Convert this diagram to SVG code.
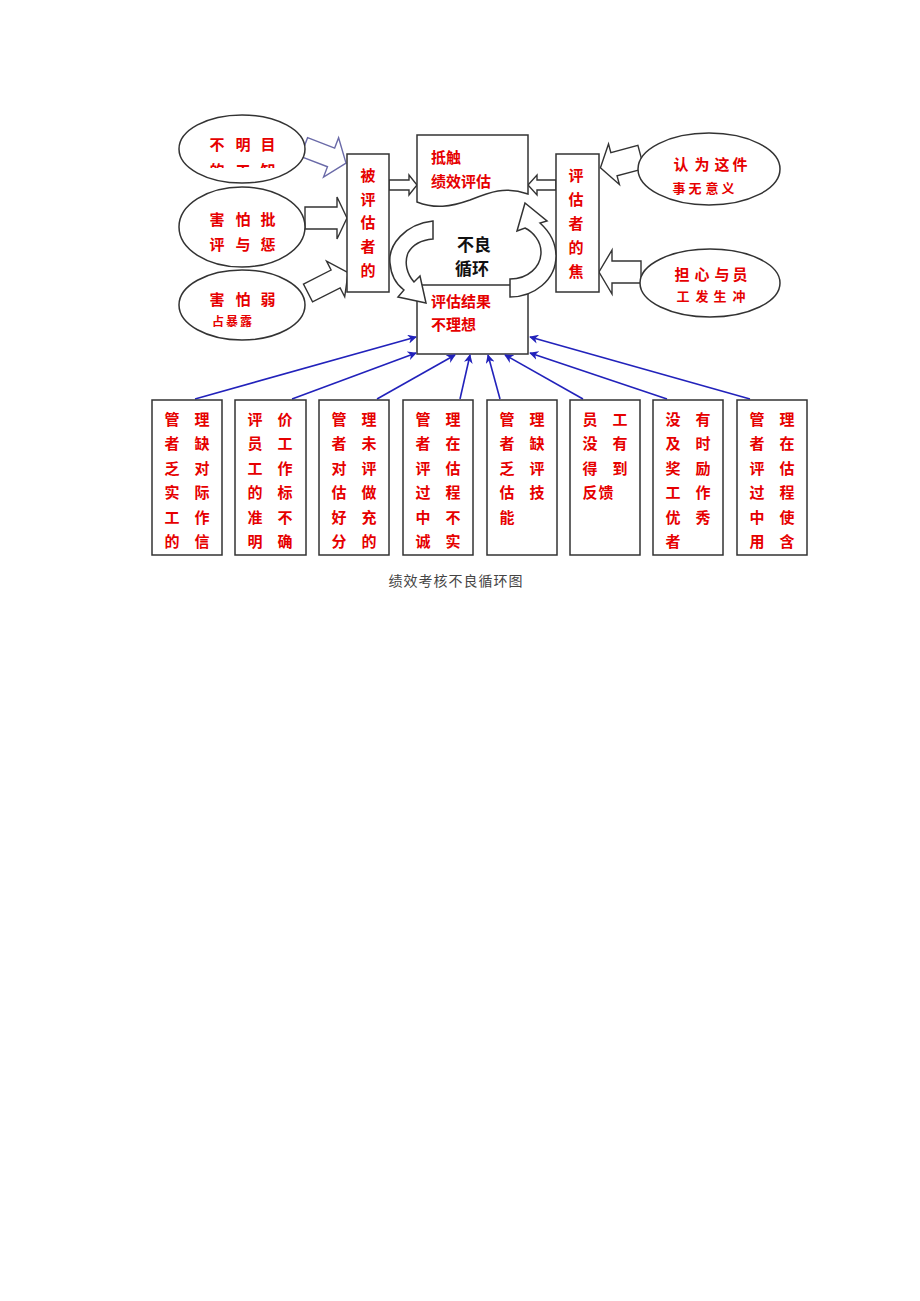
<svg xmlns="http://www.w3.org/2000/svg" width="920" height="1301" viewBox="0 0 920 1301">
<style>
.bg{fill:#fff}
.sh{fill:#fff;stroke:#333;stroke-width:1.5}
.ba{fill:#fff;stroke:#333;stroke-width:1.4}
.bb{fill:#fff;stroke:#6a6aa8;stroke-width:1.4}
.rt{font-family:"Noto Sans CJK SC","Noto Sans",sans-serif;font-weight:bold;fill:#e60000;font-size:15px;text-anchor:middle;dominant-baseline:central}
.bt{font-family:"Noto Sans CJK SC","Noto Sans",sans-serif;font-weight:bold;fill:#111;font-size:17px;text-anchor:middle;dominant-baseline:central}
.cap{font-family:"Noto Sans CJK SC",serif;fill:#444;font-size:14px;text-anchor:middle;dominant-baseline:central;letter-spacing:1px}
.con{stroke:#2222bb;stroke-width:1.6;fill:none;marker-end:url(#ah)}
</style>
<defs>
<marker id="ah" viewBox="0 0 10 10" refX="9" refY="5" markerWidth="9" markerHeight="9" orient="auto" markerUnits="userSpaceOnUse">
<path d="M0,0 L10,5 L0,10 L3,5 Z" fill="#2222bb"/>
</marker>
<clipPath id="c1"><rect x="170" y="100" width="150" height="68"/></clipPath>
</defs>
<rect class="bg" x="0" y="0" width="920" height="1301"/>

<g id="block-arrows">
<polygon class="bb" points="0,-10 29,-10 29,-21 45,0 29,21 29,10 0,10" transform="translate(304,147) rotate(21)"/>
<polygon class="ba" points="0,-11 32,-11 32,-21 42,0 32,21 32,11 0,11" transform="translate(305,218)"/>
<polygon class="ba" points="0,-10 31,-10 31,-20 45,0 31,20 31,10 0,10" transform="translate(308,293) rotate(-27)"/>
<polygon class="ba" points="0,-5 20,-5 20,-10 28,0 20,10 20,5 0,5" transform="translate(389,185)"/>
<polygon class="ba" points="0,-5 19,-5 19,-10 28,0 19,10 19,5 0,5" transform="translate(556,185) rotate(180)"/>
<polygon class="ba" points="0,-12 28,-12 28,-21 42,0 28,21 28,12 0,12" transform="translate(641,157) rotate(165)"/>
<polygon class="ba" points="0,-11 29,-11 29,-22 42,0 29,22 29,11 0,11" transform="translate(641,272) rotate(180)"/>
</g>

<g id="e1">
<ellipse class="sh" cx="242" cy="149" rx="63" ry="34"/>
<text class="rt" x="217 243 268" y="143">不明目</text>
<text class="rt" x="217 243 268" y="169" clip-path="url(#c1)">的工知</text>
</g>
<g id="e2">
<ellipse class="sh" cx="242" cy="227" rx="63" ry="40"/>
<text class="rt" x="217 243 268" y="218">害怕批</text>
<text class="rt" x="217 243 268" y="243">评与惩</text>
</g>
<g id="e3">
<ellipse class="sh" cx="242" cy="305" rx="63" ry="35"/>
<text class="rt" x="217 243 268" y="298">害怕弱</text>
<text class="rt" x="218 232 246" y="320" style="font-size:12px">占暴露</text>
</g>

<g id="e4">
<ellipse class="sh" cx="709" cy="169" rx="71" ry="36"/>
<text class="rt" x="681 702 722 740" y="163">认为这件</text>
<text class="rt" x="679 695 712 728" y="187" style="font-size:13px">事无意义</text>
</g>
<g id="e5">
<ellipse class="sh" cx="710" cy="283" rx="70" ry="34"/>
<text class="rt" x="682 702 722 740" y="273">担心与员</text>
<text class="rt" x="683 702 720 739" y="295" style="font-size:13px">工发生冲</text>
</g>

<g id="evaluated">
<rect class="sh" x="347" y="154" width="42" height="138"/>
<text class="rt" x="368" y="174">被</text>
<text class="rt" x="368" y="198">评</text>
<text class="rt" x="368" y="221">估</text>
<text class="rt" x="368" y="245">者</text>
<text class="rt" x="368" y="269">的</text>
</g>

<g id="evaluator">
<rect class="sh" x="556" y="154" width="43" height="138"/>
<text class="rt" x="576" y="174">评</text>
<text class="rt" x="576" y="198">估</text>
<text class="rt" x="576" y="222">者</text>
<text class="rt" x="576" y="246">的</text>
<text class="rt" x="576" y="270">焦</text>
</g>

<g id="resist">
<path class="sh" d="M417,135 H528 V194 C505,186 490,192 470,200 C450,207 435,209 417,202 Z"/>
<text class="rt" x="431" y="156" style="text-anchor:start">抵触</text>
<text class="rt" x="431" y="180" style="text-anchor:start">绩效评估</text>
</g>

<g id="result">
<rect class="sh" x="417" y="285" width="111" height="69"/>
</g>

<g id="cycle">
<path class="sh" d="M433,221 C405,224 388,245 390,263 C391,276 397,285 404,290 L398,297 L426,303 L420,276 L414,282 C407,274 404,263 408,253 C413,244 421,240 433,239 Z"/>
<path class="sh" d="M510,279 C528,279 541,267 541,252 C541,241 533,232 525,228 L517,231 L525,203 L547,221 L540,223 C550,232 556,244 556,256 C556,280 534,297 510,297 Z"/>
<text class="bt" x="474" y="243">不良</text>
<text class="bt" x="472" y="267">循环</text>
</g>

<g id="result-text">
<text class="rt" x="431" y="300" style="text-anchor:start">评估结果</text>
<text class="rt" x="431" y="323" style="text-anchor:start">不理想</text>
</g>

<g id="connectors">
<line class="con" x1="195" y1="399" x2="416" y2="337"/>
<line class="con" x1="292" y1="399" x2="416" y2="353"/>
<line class="con" x1="377" y1="399" x2="455" y2="355"/>
<line class="con" x1="460" y1="399" x2="470" y2="355"/>
<line class="con" x1="500" y1="399" x2="488" y2="355"/>
<line class="con" x1="583" y1="399" x2="505" y2="355"/>
<line class="con" x1="667" y1="399" x2="530" y2="353"/>
<line class="con" x1="750" y1="399" x2="530" y2="337"/>
</g>

<g id="b1">
<rect class="sh" x="152" y="400" width="70" height="155"/>
<text class="rt" x="172 202" y="418">管理</text>
<text class="rt" x="172 202" y="442">者缺</text>
<text class="rt" x="172 202" y="467">乏对</text>
<text class="rt" x="172 202" y="491">实际</text>
<text class="rt" x="172 202" y="516">工作</text>
<text class="rt" x="172 202" y="540">的信</text>
</g>
<g id="b2">
<rect class="sh" x="235" y="400" width="71" height="155"/>
<text class="rt" x="255 285" y="418">评价</text>
<text class="rt" x="255 285" y="442">员工</text>
<text class="rt" x="255 285" y="467">工作</text>
<text class="rt" x="255 285" y="491">的标</text>
<text class="rt" x="255 285" y="516">准不</text>
<text class="rt" x="255 285" y="540">明确</text>
</g>
<g id="b3">
<rect class="sh" x="319" y="400" width="70" height="155"/>
<text class="rt" x="339 369" y="418">管理</text>
<text class="rt" x="339 369" y="442">者未</text>
<text class="rt" x="339 369" y="467">对评</text>
<text class="rt" x="339 369" y="491">估做</text>
<text class="rt" x="339 369" y="516">好充</text>
<text class="rt" x="339 369" y="540">分的</text>
</g>
<g id="b4">
<rect class="sh" x="403" y="400" width="70" height="155"/>
<text class="rt" x="423 453" y="418">管理</text>
<text class="rt" x="423 453" y="442">者在</text>
<text class="rt" x="423 453" y="467">评估</text>
<text class="rt" x="423 453" y="491">过程</text>
<text class="rt" x="423 453" y="516">中不</text>
<text class="rt" x="423 453" y="540">诚实</text>
</g>
<g id="b5">
<rect class="sh" x="487" y="400" width="70" height="155"/>
<text class="rt" x="507 537" y="418">管理</text>
<text class="rt" x="507 537" y="442">者缺</text>
<text class="rt" x="507 537" y="467">乏评</text>
<text class="rt" x="507 537" y="491">估技</text>
<text class="rt" x="507" y="516">能</text>
</g>
<g id="b6">
<rect class="sh" x="570" y="400" width="70" height="155"/>
<text class="rt" x="590 620" y="418">员工</text>
<text class="rt" x="590 620" y="442">没有</text>
<text class="rt" x="590 620" y="467">得到</text>
<text class="rt" x="590 606" y="491">反馈</text>
</g>
<g id="b7">
<rect class="sh" x="653" y="400" width="70" height="155"/>
<text class="rt" x="673 703" y="418">没有</text>
<text class="rt" x="673 703" y="442">及时</text>
<text class="rt" x="673 703" y="467">奖励</text>
<text class="rt" x="673 703" y="491">工作</text>
<text class="rt" x="673 703" y="516">优秀</text>
<text class="rt" x="673" y="540">者</text>
</g>
<g id="b8">
<rect class="sh" x="737" y="400" width="70" height="155"/>
<text class="rt" x="757 787" y="418">管理</text>
<text class="rt" x="757 787" y="442">者在</text>
<text class="rt" x="757 787" y="467">评估</text>
<text class="rt" x="757 787" y="491">过程</text>
<text class="rt" x="757 787" y="516">中使</text>
<text class="rt" x="757 787" y="540">用含</text>
</g>

<text class="cap" x="456" y="580">绩效考核不良循环图</text>
</svg>
